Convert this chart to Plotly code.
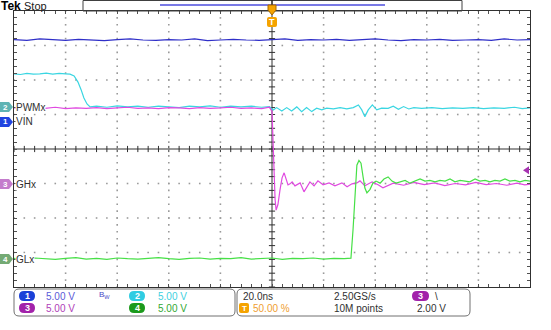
import plotly.graph_objects as go

W, H = 551, 330
X0, X1, Y0, Y1 = 14, 530, 11, 287   # plot frame in px


def X(p):
    return p / W


def Y(p):
    return 1 - p / H


# ---------------- channel settings ----------------
CH_SCALE = 5.0  # V/div
CH_POS = {"VIN": 0.78, "PWMx": 1.22, "GHx": -1.01, "GLx": -3.19}  # divisions
CH_COLOR = {"VIN": "#2f2fc8", "PWMx": "#3ad6e2", "GHx": "#e04ae0", "GLx": "#46e046"}

# ---------------- data (time in ns, values in V) ----------------
VIN_t = [-100, -95, -90, -85, -80, -75, -70, -65, -60, -55, -50, -45, -40, -35, -30,
         -25, -20, -15, -10, -5, 0, 5, 10, 15, 20, 25, 30, 35, 40, 45, 50, 55, 60, 65,
         70, 75, 80, 85, 90, 95, 100]
VIN_v = [11.95, 11.85, 12.05, 11.9, 11.85, 12.0, 11.9, 11.8, 11.95, 12.05, 11.9, 11.85,
         11.95, 11.9, 12.05, 11.8, 11.9, 12.0, 11.9, 11.85, 11.95, 12.05, 11.85, 11.95,
         11.9, 12.0, 11.85, 11.9, 12.05, 11.9, 11.8, 11.95, 11.9, 12.0, 11.85, 11.9,
         11.95, 11.85, 12.05, 11.9, 11.95]

PWM_t = [-100, -97.5, -95, -92.5, -90, -87.5, -85, -82.5, -80, -78.3, -76.7, -75.2, -74.0,
         -72.9, -71.7, -70.5, -68, -64, -60, -56, -52, -48, -44, -40, -36, -32, -28, -24,
         -20, -16, -12, -8, -4, -1, 0.5, 1.8, 3.8, 5.7, 7.6, 9.6, 11.5, 13.4, 15.4, 17.3,
         19.3, 21.2, 23.8, 26.4, 29.0, 31.5, 33.5, 34.8, 36.0, 37.3, 38.9, 40.6, 42.5, 45,
         47, 49, 51, 53, 55, 58, 62, 66, 70, 74, 78, 82, 86, 90, 94, 97, 100]
PWM_v = [4.8, 4.7, 4.85, 4.75, 4.8, 4.9, 4.75, 4.85, 4.8, 4.75, 4.5, 3.6, 2.5, 1.3, 0.43,
         0.0, 0.1, -0.05, 0.15, 0.0, 0.1, -0.05, 0.1, 0.05, -0.1, 0.1, 0.0, 0.15, -0.05,
         0.1, 0.0, 0.1, -0.05, 0.05, -0.43, -0.1, -0.58, -0.1, -0.58, 0.0, -0.68, -0.1,
         -0.68, -0.19, -0.43, -0.19, -0.29, -0.1, -0.29, -0.1, 0.29, -0.43, -1.41, -0.43,
         0.29, -0.43, -0.19, -0.2, 0.1, -0.35, 0.05, -0.3, -0.1, -0.2, -0.1, -0.25, -0.15,
         -0.2, -0.1, -0.25, -0.15, -0.2, -0.05, -0.25, -0.15]

GH_t = [-100, -96, -92, -88, -84, -80, -76, -72, -68, -64, -60, -56, -52, -48, -44, -40,
        -36, -32, -28, -24, -20, -16, -12, -8, -4, -2, -1, 0, 0.4, 0.8, 1.2, 1.6, 2.3, 3.1,
        3.9, 4.7, 5.4, 6.2, 7.0, 7.8, 8.9, 10.1, 10.9, 12.4, 13.6, 14.7, 16.3, 17.8, 19.8,
        22.1, 24.4, 27.1, 29.1, 31.0, 32.9, 34.1, 36.0, 38.8, 41.1, 43.0, 47, 51, 55, 59,
        63, 67, 71, 75, 79, 83, 87, 91, 95, 98, 100]
GH_v = [11.0, 10.9, 11.05, 10.95, 11.1, 10.9, 11.0, 10.95, 11.05, 10.9, 11.0, 11.1, 10.95,
        11.0, 10.9, 11.05, 11.0, 10.9, 11.05, 10.95, 11.0, 11.1, 10.95, 11.0, 10.9, 11.0,
        11.1, 10.5, 4.9, 0.6, -2.3, -3.8, -3.0, -0.87, 0.87, 1.6, 0.87, -0.14, 0.0, 0.29,
        -0.29, 0.0, 0.14, -1.16, -0.43, 0.29, -0.29, 0.43, -0.14, 0.14, -0.29, 0.14, -0.43,
        0.0, 0.14, 0.43, -0.29, 0.29, -0.14, -0.58, 0.1, -0.2, 0.2, -0.1, 0.15, -0.25, 0.05,
        -0.15, 0.2, -0.1, 0.05, -0.2, 0.1, -0.15, -0.05]

GL_t = [-100, -96, -92, -88, -84, -80, -76, -72, -68, -64, -60, -56, -52, -48, -44, -40,
        -36, -32, -28, -24, -20, -16, -12, -8, -4, 0, 4, 8, 12, 16, 20, 24, 28, 30.6, 31.4,
        32.2, 32.9, 33.7, 34.5, 35.3, 36.0, 36.8, 38.0, 39.1, 40.3, 41.9, 43.4, 45.0, 46.5,
        48.1, 49.6, 51.6, 53.5, 55.4, 57.4, 59.3, 61.2, 63.2, 65.1, 67.1, 69.0, 70.9, 72.9,
        74.8, 76.7, 78.7, 80.6, 82.6, 84.5, 86.4, 88.4, 90.3, 92.2, 94.2, 96.1, 98.1, 100]
GL_v = [0.1, 0.0, 0.15, 0.05, -0.05, 0.1, 0.2, 0.0, 0.1, -0.05, 0.15, 0.05, 0.0, 0.1, 0.2,
        0.05, -0.05, 0.1, 0.15, 0.0, 0.1, 0.05, 0.2, 0.0, 0.1, 0.15, -0.05, 0.1, 0.05, 0.15,
        0.0, 0.1, 0.05, 0.14, 4.2, 10.0, 13.6, 14.3, 13.9, 11.9, 10.3, 9.6, 10.1, 11.0, 11.3,
        11.0, 11.6, 11.9, 11.3, 11.0, 11.2, 11.4, 11.0, 11.3, 11.6, 11.3, 11.4, 11.2, 11.4,
        11.3, 11.6, 11.2, 11.4, 11.3, 11.2, 11.6, 11.3, 11.4, 11.2, 11.4, 11.3, 11.6, 11.3,
        11.4, 11.2, 11.4, 11.3]

SERIES = [("VIN", VIN_t, VIN_v), ("PWMx", PWM_t, PWM_v), ("GHx", GH_t, GH_v), ("GLx", GL_t, GL_v)]

FONT = "Liberation Sans, Arial, sans-serif"

fig = go.Figure()

# dotted graticule (dots at every minor division along each major line)
gx, gy = [], []
for i in range(-4, 5):
    if i == 0:
        continue
    for j in range(-20, 21):
        gx.append(i * 20)
        gy.append(j * 0.2)
for i in range(-3, 4):
    if i == 0:
        continue
    for j in range(-25, 26):
        gx.append(j * 4)
        gy.append(i)
fig.add_trace(go.Scatter(x=gx, y=gy, mode="markers", hoverinfo="skip",
                         marker=dict(symbol="square", size=1.6, color="#9a9a9a",
                                     line=dict(width=0))))

for name, t, v in SERIES:
    fig.add_trace(go.Scatter(
        x=t, y=[CH_POS[name] + val / CH_SCALE for val in v], mode="lines",
        line=dict(color=CH_COLOR[name], width=1.2), hoverinfo="skip", name=name))

# trigger level marker (ch3, 2.00 V)
TRIG_LEVEL = 2.0

ax_common = dict(showticklabels=False, showline=True, linecolor="#303030", linewidth=1,
                 mirror="ticks", ticks="inside", ticklen=3, tickcolor="#505050",
                 zeroline=False, showgrid=False, fixedrange=True)
fig.update_xaxes(range=[-100, 100], dtick=20, tick0=0, domain=[X(X0), X(X1)],
                 minor=dict(dtick=4, tick0=0, ticks="inside", ticklen=3,
                            tickcolor="#505050", showgrid=False), **ax_common)
fig.update_yaxes(range=[-4, 4], dtick=1, tick0=0, domain=[Y(Y1), Y(Y0)],
                 minor=dict(dtick=0.2, tick0=0, ticks="inside", ticklen=3,
                            tickcolor="#505050", showgrid=False), **ax_common)

shapes = []
annos = []

# center crosshair
shapes.append(dict(type="line", xref="x", yref="y", x0=-100, x1=100, y0=0, y1=0,
                   line=dict(color="#303030", width=1), layer="below"))
shapes.append(dict(type="line", xref="x", yref="y", x0=0, x1=0, y0=-4, y1=4,
                   line=dict(color="#303030", width=1), layer="below"))
for k in range(-25, 26):
    shapes.append(dict(type="line", xref="x", yref="y", x0=4 * k, x1=4 * k, y0=-0.09, y1=0.09,
                       line=dict(color="#303030", width=1), layer="below"))
for k in range(-20, 21):
    shapes.append(dict(type="line", xref="x", yref="y", x0=-1.2, x1=1.2, y0=0.2 * k, y1=0.2 * k,
                       line=dict(color="#303030", width=1), layer="below"))


def rrect(x0, y0, x1, y1, r):
    return (f"M {X(x0 + r)},{Y(y0)} L {X(x1 - r)},{Y(y0)} Q {X(x1)},{Y(y0)} {X(x1)},{Y(y0 + r)} "
            f"L {X(x1)},{Y(y1 - r)} Q {X(x1)},{Y(y1)} {X(x1 - r)},{Y(y1)} "
            f"L {X(x0 + r)},{Y(y1)} Q {X(x0)},{Y(y1)} {X(x0)},{Y(y1 - r)} "
            f"L {X(x0)},{Y(y0 + r)} Q {X(x0)},{Y(y0)} {X(x0 + r)},{Y(y0)} Z")


def poly(pts):
    return "M " + " L ".join(f"{X(a)},{Y(b)}" for a, b in pts) + " Z"


def text(x, y, s, color="#303030", size=10, anchor="left", bold=False, bg=None):
    d = dict(xref="paper", yref="paper", x=X(x), y=Y(y), text=f"<b>{s}</b>" if bold else s,
             showarrow=False, xanchor=anchor, yanchor="middle",
             font=dict(family=FONT, size=size, color=color), borderpad=0)
    if bg:
        d["bgcolor"] = bg
    annos.append(d)


# ---------- top bar ----------
text(0, 6, "Tek", color="#000000", size=12, bold=True)
text(23, 6, "Stop", color="#202020", size=11)
shapes.append(dict(type="rect", xref="paper", yref="paper", x0=X(83), x1=X(462), y0=Y(11), y1=Y(0.5),
                   line=dict(color="#404040", width=1)))
shapes.append(dict(type="line", xref="paper", yref="paper", x0=X(160), x1=X(385), y0=Y(5), y1=Y(5),
                   line=dict(color="#7a7ae6", width=2)))
shapes.append(dict(type="line", xref="paper", yref="paper", x0=X(272), x1=X(272), y0=Y(0), y1=Y(11),
                   line=dict(color="#202020", width=1.5)))
shapes.append(dict(type="path", xref="paper", yref="paper",
                   path=poly([(268, 5), (276, 5), (276, 10), (272, 15), (268, 10)]),
                   fillcolor="#f5a300", line=dict(color="#a86a00", width=1)))
shapes.append(dict(type="path", xref="paper", yref="paper", path=rrect(267, 17, 277, 27, 2),
                   fillcolor="#f5a300", line=dict(width=0)))
text(272, 22, "T", color="#ffffff", size=9, anchor="center", bold=True)

# ---------- channel tags on the left ----------
TAGS = [("VIN", "1", "#2044e0", 122), ("PWMx", "2", "#5fb4b4", 107),
        ("GHx", "3", "#c47ccc", 184), ("GLx", "4", "#74aa74", 259)]
for name, num, col, yy in TAGS:
    shapes.append(dict(type="path", xref="paper", yref="paper",
                       path=poly([(0, yy - 5), (9, yy - 5), (13, yy), (9, yy + 5), (0, yy + 5)]),
                       fillcolor=col, line=dict(width=0)))
    text(5, yy, num, color="#ffffff", size=8, anchor="center", bold=True)
    text(15, yy, name, color="#303030", size=10, bg="#ffffff")

# trigger level arrow on the right
ty = 184 - TRIG_LEVEL / CH_SCALE * 34.5
shapes.append(dict(type="path", xref="paper", yref="paper",
                   path=poly([(529, ty - 4), (529, ty + 4), (523, ty)]),
                   fillcolor="#a632b0", line=dict(width=0)))

# ---------- bottom info panel ----------
shapes.append(dict(type="path", xref="paper", yref="paper", path=rrect(14, 289, 235, 316, 5),
                   line=dict(color="#707070", width=1)))
shapes.append(dict(type="path", xref="paper", yref="paper", path=rrect(237, 289, 470, 316, 5),
                   line=dict(color="#707070", width=1)))

R1, R2 = 296, 308
PILLS = [(19, 35, R1, "1", "#1a40d8", "#5a5ad8", "5.00 V", 45),
         (129, 145, R1, "2", "#30cce2", "#3ed0e0", "5.00 V", 157),
         (19, 35, R2, "3", "#a222aa", "#b040b8", "5.00 V", 45),
         (129, 145, R2, "4", "#1c9a1c", "#32a832", "5.00 V", 157)]
for xa, xb, yy, num, pc, tc, s, tx in PILLS:
    shapes.append(dict(type="path", xref="paper", yref="paper", path=rrect(xa, yy - 5, xb, yy + 5, 5),
                       fillcolor=pc, line=dict(width=0)))
    text((xa + xb) / 2, yy, num, color="#ffffff", size=9, anchor="center", bold=True)
    text(tx, yy, s, color=tc, size=10)
text(98, R1 - 1, "B<sub>W</sub>", color="#4a4ac8", size=8)

text(242, R1, "20.0ns", color="#303030", size=10)
shapes.append(dict(type="path", xref="paper", yref="paper", path=rrect(239, R2 - 5, 249, R2 + 5, 2),
                   fillcolor="#f5a300", line=dict(width=0)))
text(244, R2, "T", color="#ffffff", size=8, anchor="center", bold=True)
text(252, R2, "50.00 %", color="#f0a030", size=10)
text(333, R1, "2.50GS/s", color="#303030", size=10)
text(333, R2, "10M points", color="#303030", size=10)
shapes.append(dict(type="path", xref="paper", yref="paper", path=rrect(412, R1 - 5, 429, R1 + 5, 5),
                   fillcolor="#a222aa", line=dict(width=0)))
text(420.5, R1, "3", color="#ffffff", size=9, anchor="center", bold=True)
text(434, R1, "\\", color="#303030", size=10)
text(416, R2, "2.00 V", color="#303030", size=10)

fig.update_layout(width=W, height=H, margin=dict(l=0, r=0, t=0, b=0),
                  paper_bgcolor="#ffffff", plot_bgcolor="#ffffff", showlegend=False,
                  shapes=shapes, annotations=annos, font=dict(family=FONT))

fig.write_html("out.html")
